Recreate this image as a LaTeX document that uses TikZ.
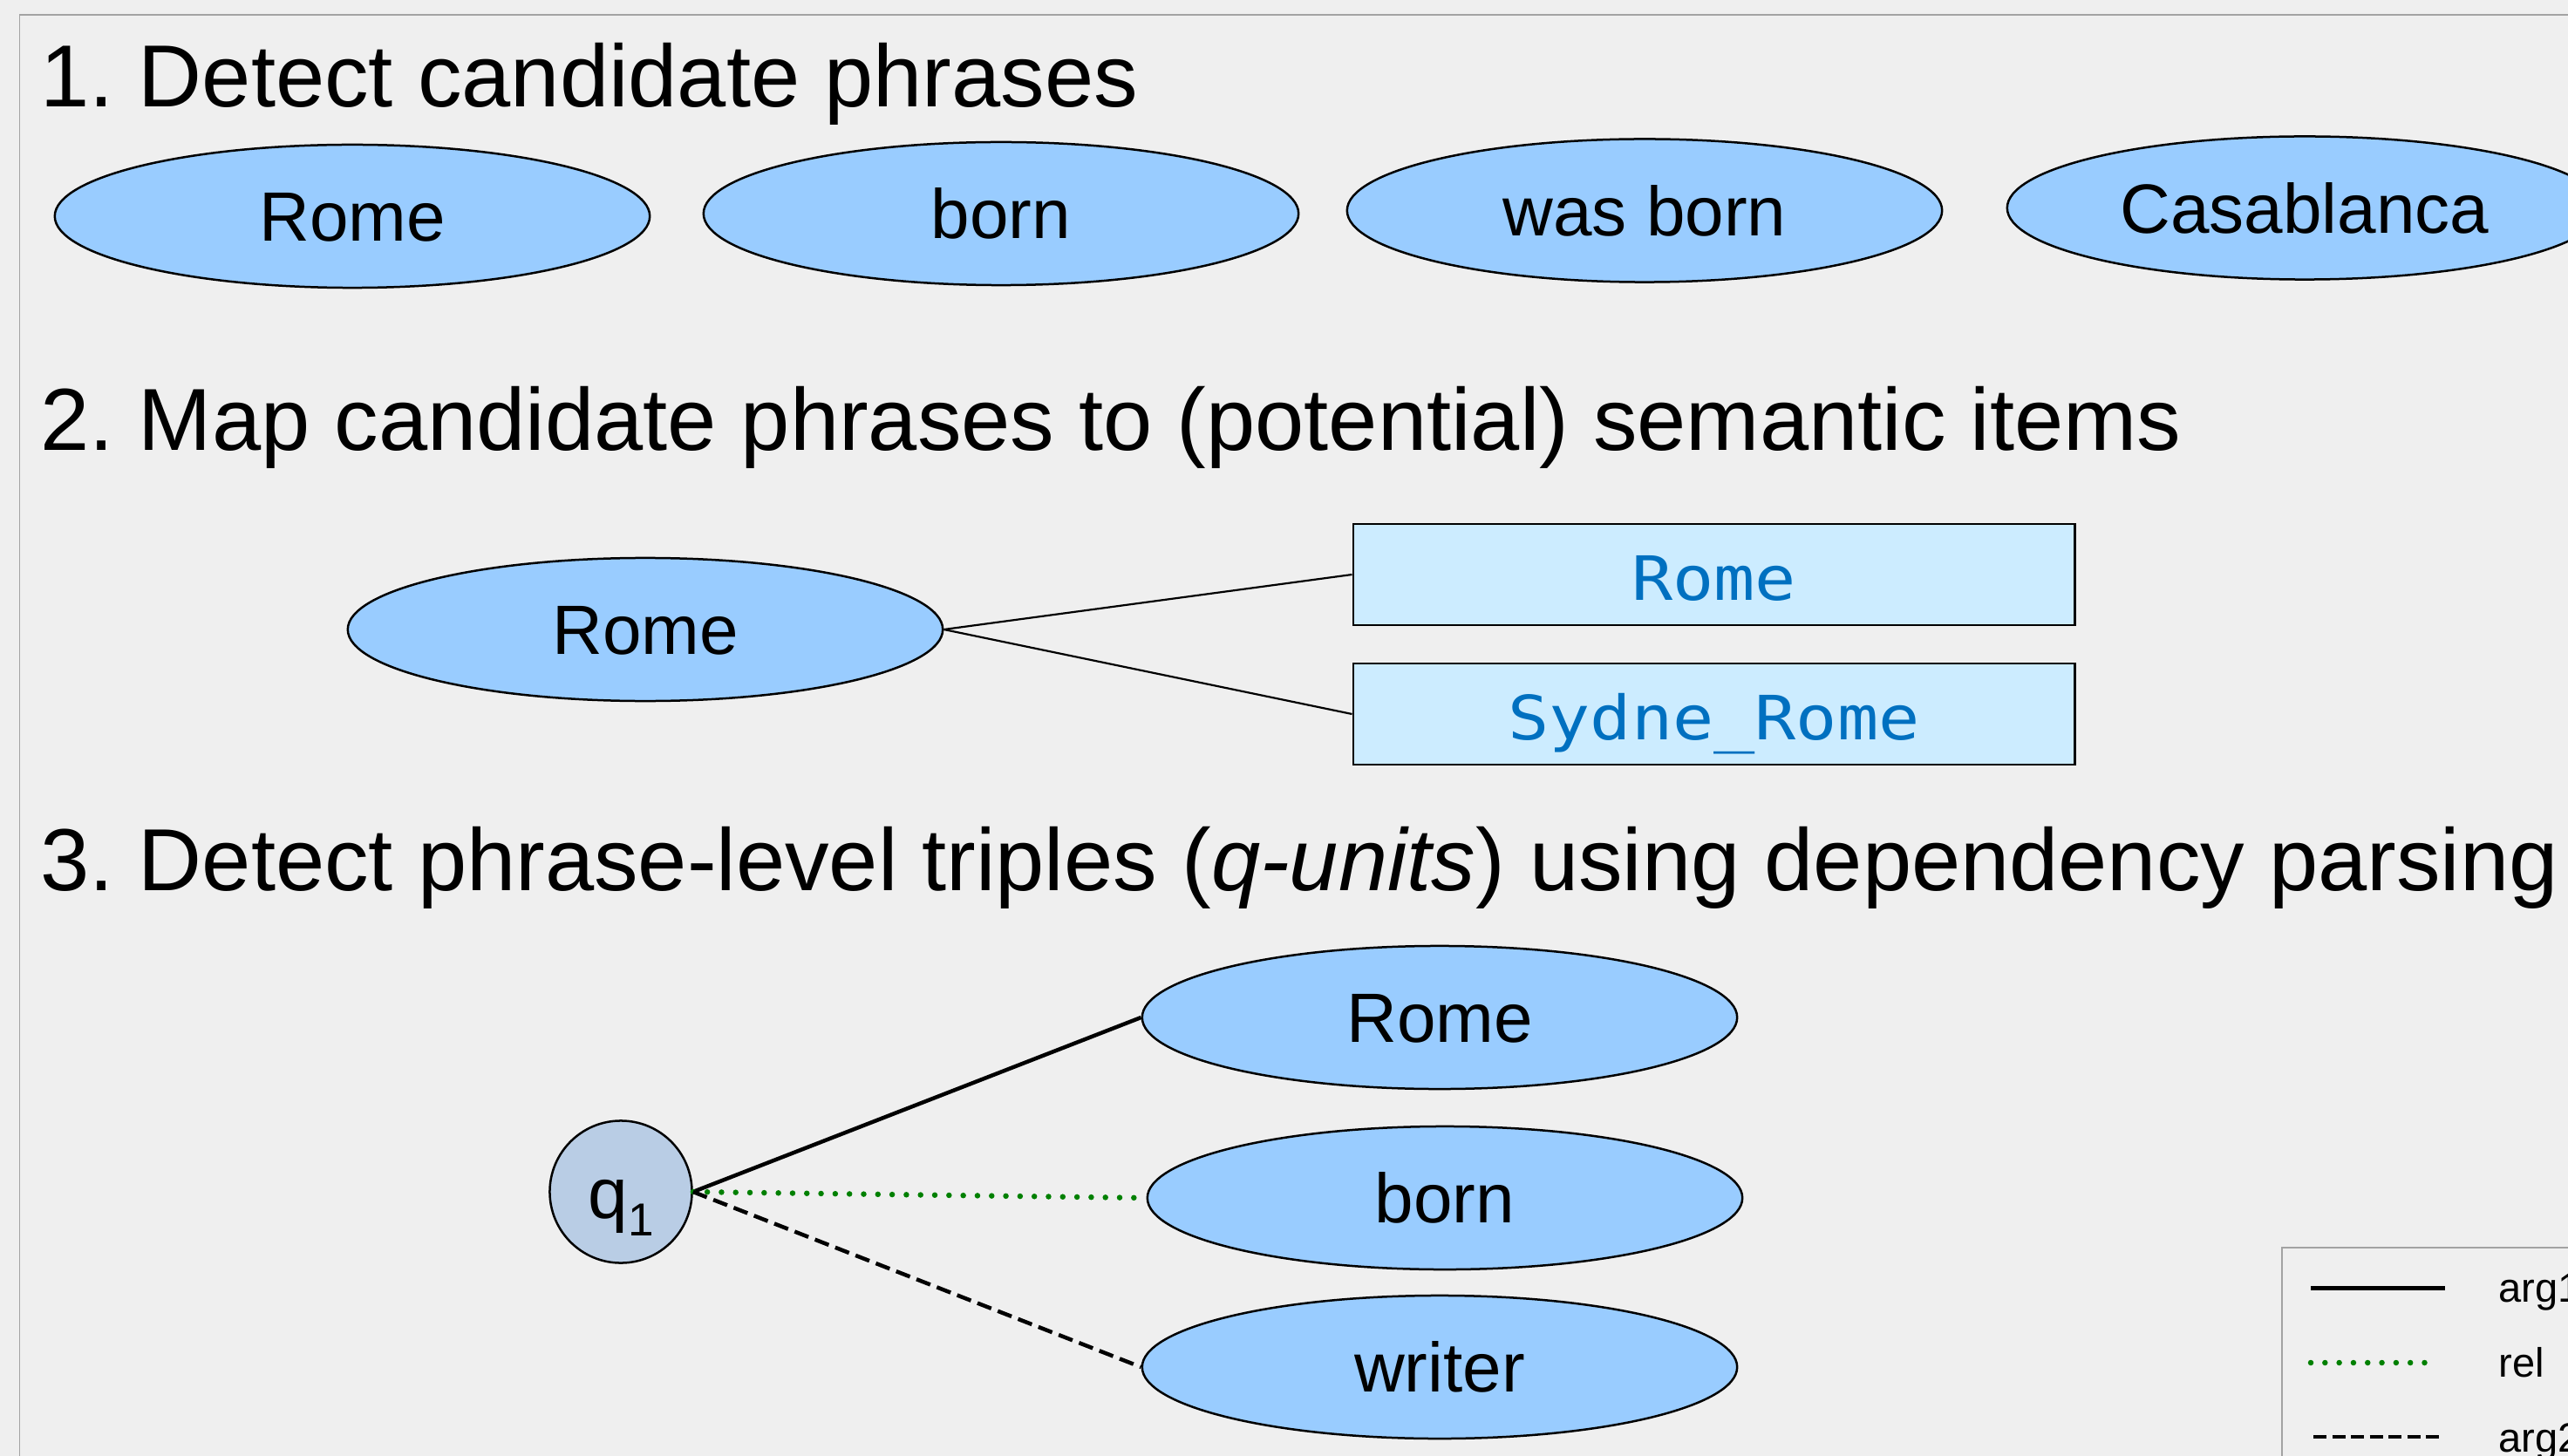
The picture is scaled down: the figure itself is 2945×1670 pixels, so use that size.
\documentclass[tikz,border=0pt]{standalone}
\usepackage{fontspec}
\setmainfont{Liberation Sans}
\newfontfamily\boxmono[FakeStretch=1.12]{DejaVu Sans Mono}
\usetikzlibrary{shapes.geometric}
\frenchspacing

\definecolor{pagebg}{HTML}{EFEFEF}
\definecolor{framegray}{HTML}{A3A3A3}
\definecolor{phraseblue}{HTML}{99CCFF}
\definecolor{qblue}{HTML}{B9CDE5}
\definecolor{itemcyan}{HTML}{CCECFF}
\definecolor{itemblue}{HTML}{0070C0}
\definecolor{relgreen}{HTML}{008000}

\tikzset{
  steptitle/.style={anchor=base west, inner sep=0pt,
    font=\fontsize{1.01cm}{1.2cm}\selectfont},
  phrase/.style={ellipse, draw=black, line width=0.025cm, fill=phraseblue,
    minimum width=6.82cm, minimum height=1.64cm, inner sep=0pt,
    font=\fontsize{0.8cm}{0.96cm}\selectfont, text height=0.573cm, text depth=0pt},
  item/.style={rectangle, draw=black, line width=0.025cm, fill=itemcyan,
    minimum width=8.27cm, minimum height=1.16cm, inner sep=0pt, text=itemblue,
    font=\boxmono\fontsize{0.7cm}{0.84cm}\selectfont, text height=0.58cm, text depth=0pt},
  qunit/.style={circle, draw=black, line width=0.025cm, fill=qblue,
    minimum size=1.63cm, inner sep=0pt,
    font=\fontsize{0.82cm}{0.96cm}\selectfont, text height=0.6cm, text depth=0pt},
  maplink/.style={draw=black, line width=0.022cm},
  arglink/.style={draw=black, line width=0.045cm},
  rellink/.style={draw=relgreen, line width=0.065cm, line cap=round,
    dash pattern=on 0pt off 0.163cm},
  arglinktwo/.style={draw=black, line width=0.045cm, dash pattern=on 0.17cm off 0.08cm},
  legendtext/.style={anchor=base west, inner sep=0pt,
    font=\fontsize{0.47cm}{0.56cm}\selectfont}
}

\begin{document}
\begin{tikzpicture}[x=0.01cm, y=-0.01cm]
\useasboundingbox (0,0) rectangle (2945,1670);
\clip (0,0) rectangle (2945,1670);
\fill[pagebg] (0,0) rectangle (2945,1670);
\draw[framegray, line width=0.018cm] (22.5,17) rectangle (3000,1720);

% Step 1: candidate phrases
\node[steptitle] (t1) at (46,123) {1. Detect candidate phrases};
\node[phrase] (c1) at (404,248) {Rome};
\node[phrase] (c2) at (1148,245) {born};
\node[phrase] (c3) at (1886,241.5) {was born};
\node[phrase] (c4) at (2643,238.5) {Casablanca};

% Step 2: mapping to semantic items
\node[steptitle] (t2) at (46,517) {2. Map candidate phrases to (potential) semantic items};
\node[phrase] (m0) at (740,722) {Rome};
\node[item] (s1) at (1965.5,659) {Rome};
\node[item] (s2) at (1965.5,819) {Sydne\_Rome};
\draw[maplink] (m0.east) -- (s1.west);
\draw[maplink] (m0.east) -- (s2.west);

% Step 3: q-units
\node[steptitle] (t3) at (46,1021) {3. Detect phrase-level triples (\textit{q-units}) using dependency parsing};
\node[qunit] (q1) at (712,1367) {q\raisebox{-0.2cm}{\fontsize{0.53cm}{0.6cm}\selectfont 1}};
\node[phrase] (a1) at (1651,1167) {Rome};
\node[phrase] (r1) at (1657,1374) {born};
\node[phrase] (a2) at (1651,1568) {writer};
\draw[arglink] (q1.east) -- (a1.west);
\draw[rellink] (q1.east) -- (r1.west);
\draw[arglinktwo] (q1.east) -- (a2.west);

% Legend
\draw[framegray, line width=0.015cm, fill=pagebg] (2617,1431) rectangle (3000,1720);
\coordinate (la1) at (2650,1477);
\coordinate (lb1) at (2804,1477);
\coordinate (la2) at (2650,1563);
\coordinate (lb2) at (2790,1563);
\coordinate (la3) at (2653,1648);
\coordinate (lb3) at (2797,1648);
\draw[draw=black, line width=0.05cm] (la1) -- (lb1);
\draw[rellink] (la2) -- (lb2);
\draw[draw=black, line width=0.048cm, dash pattern=on 0.15cm off 0.065cm] (la3) -- (lb3);
\node[legendtext] (g1) at (2865,1493) {arg1};
\node[legendtext] (g2) at (2865,1579) {rel};
\node[legendtext] (g3) at (2865,1665) {arg2};
\end{tikzpicture}
\end{document}
